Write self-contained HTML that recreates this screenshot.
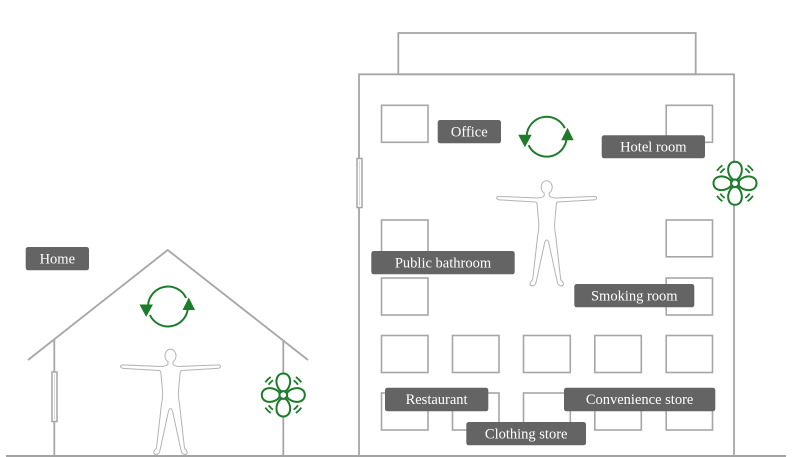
<!DOCTYPE html>
<html><head><meta charset="utf-8"><style>
html,body{margin:0;padding:0;background:#fff;}
svg{display:block;}
text{font-family:"Liberation Serif",serif;font-size:14.5px;fill:#fff;}
</style></head><body>
<svg width="810" height="457" viewBox="0 0 810 457" xmlns="http://www.w3.org/2000/svg">
<defs>
<g id="person">
<path d="M -2.5,12.5 A 5.5 6.5 0 1 1 2.5,12.5 L 2.5,15 Q 3,17 9,17.5 L 45,16 Q 50,15.5 50,17.5 Q 50,19.5 45,19.5 L 11,21.5 Q 9.5,22 9.5,25 L 8,42 Q 7.5,48 9,55 L 14,99 Q 18,103 16,105 Q 13,106.5 11,103 L 10,99 L 2,62 Q 0,57 -2,62 L -10,99 L -11,103 Q -13,106.5 -16,105 Q -18,103 -14,99 L -9,55 Q -7.5,48 -8,42 L -9.5,25 Q -9.5,22 -11,21.5 L -45,19.5 Q -50,19.5 -50,17.5 Q -50,15.5 -45,16 L -9,17.5 Q -3,17 -2.5,15 Z" fill="#fff" stroke="#b3b3b3" stroke-width="1"/>
</g>
<g id="arrows">
<path d="M 18.1,-8.5 A 20 20 0 0 0 -19.9,-1.7" fill="none" stroke="#1e7b2c" stroke-width="2"/>
<path d="M -18.1,8.5 A 20 20 0 0 0 19.9,1.7" fill="none" stroke="#1e7b2c" stroke-width="2"/>
<polygon points="-28.5,-2 -15,-2 -21.8,10.5" fill="#1e7b2c"/>
<polygon points="14.5,3.5 27,3.5 20.8,-9" fill="#1e7b2c"/>
</g>
<g id="fan">
<g fill="#fff" stroke="#1e7b2c" stroke-width="2">
<path id="petal" d="M -2.2,-3.8 C -9,-9 -8.5,-21.5 0,-21.5 C 8.5,-21.5 9,-9 2.2,-3.8 Z"/>
<path d="M -2.2,-3.8 C -9,-9 -8.5,-21.5 0,-21.5 C 8.5,-21.5 9,-9 2.2,-3.8 Z" transform="rotate(90)"/>
<path d="M -2.2,-3.8 C -9,-9 -8.5,-21.5 0,-21.5 C 8.5,-21.5 9,-9 2.2,-3.8 Z" transform="rotate(180)"/>
<path d="M -2.2,-3.8 C -9,-9 -8.5,-21.5 0,-21.5 C 8.5,-21.5 9,-9 2.2,-3.8 Z" transform="rotate(270)"/>
<circle cx="0" cy="0" r="3.8"/>
</g>
<g fill="none" stroke="#1e7b2c" stroke-width="1.8">
<g id="fanarc">
<path d="M 10.3,-14.7 A 18 18 0 0 1 14.7,-10.3"/>
<path d="M 12.6,-18.0 A 22 22 0 0 1 18.0,-12.6"/>
</g>
<use href="#fanarc" transform="rotate(90)"/>
<use href="#fanarc" transform="rotate(180)"/>
<use href="#fanarc" transform="rotate(270)"/>
</g>
</g>
</defs>

<!-- ground -->
<line x1="6" y1="456" x2="786" y2="456" stroke="#a3a3a3" stroke-width="2"/>

<!-- house -->
<polyline points="28,360 167.7,250 308,360" fill="none" stroke="#a6a6a6" stroke-width="1.8"/>
<line x1="54.3" y1="339.5" x2="54.3" y2="456" stroke="#a6a6a6" stroke-width="1.8"/>
<line x1="283.3" y1="339.5" x2="283.3" y2="456" stroke="#a6a6a6" stroke-width="1.8"/>
<rect x="52" y="372" width="5" height="49.5" fill="#fff" stroke="#a6a6a6" stroke-width="1.5"/>
<line x1="54.5" y1="374" x2="54.5" y2="419.5" stroke="#d8d8d8" stroke-width="1"/>

<!-- building -->
<rect x="398.3" y="33" width="297.4" height="41.3" fill="none" stroke="#a6a6a6" stroke-width="1.8"/>
<polyline points="359,456 359,74.3 734,74.3 734,456" fill="none" stroke="#a6a6a6" stroke-width="1.8"/>
<rect x="357" y="158.5" width="5" height="49" fill="#fff" stroke="#a6a6a6" stroke-width="1.5"/>
<line x1="359.5" y1="160.5" x2="359.5" y2="205.5" stroke="#d8d8d8" stroke-width="1"/>

<!-- windows -->
<g fill="none" stroke="#a6a6a6" stroke-width="1.6">
<rect x="381.5" y="105.3" width="46.5" height="37"/>
<rect x="666.2" y="105.3" width="46.3" height="37"/>
<rect x="381.5" y="220" width="46.5" height="36.8"/>
<rect x="666.2" y="220" width="46.3" height="36.8"/>
<rect x="381.5" y="278" width="46.5" height="37"/>
<rect x="666.2" y="278" width="46.3" height="37"/>
<rect x="381.5" y="335.5" width="46.5" height="37"/>
<rect x="452.5" y="335.5" width="46.5" height="37"/>
<rect x="523.5" y="335.5" width="46.8" height="37"/>
<rect x="594.8" y="335.5" width="46.5" height="37"/>
<rect x="666.2" y="335.5" width="46.3" height="37"/>
<rect x="381.5" y="393" width="46.5" height="37"/>
<rect x="452.5" y="393" width="46.5" height="37"/>
<rect x="523.5" y="393" width="46.8" height="37"/>
<rect x="594.8" y="393" width="46.5" height="37"/>
<rect x="666.2" y="393" width="46.3" height="37"/>
</g>

<!-- people -->
<use href="#person" transform="translate(170.5,349)"/>
<use href="#person" transform="translate(546.7,180.5)"/>

<!-- arrows -->
<use href="#arrows" transform="translate(168,306.5)"/>
<use href="#arrows" transform="translate(546.7,136.7)"/>

<!-- fans -->
<use href="#fan" transform="translate(283.3,395)"/>
<use href="#fan" transform="translate(735,183.3)"/>

<!-- labels -->
<g fill="#646464">
<rect x="25.7" y="247" width="63.3" height="23.3" rx="2.5"/>
<rect x="437.7" y="120" width="63.3" height="23.3" rx="2.5"/>
<rect x="601.7" y="135.3" width="103.3" height="23" rx="2.5"/>
<rect x="371.3" y="251" width="143.4" height="23.3" rx="2.5"/>
<rect x="574.3" y="284" width="120" height="23.3" rx="2.5"/>
<rect x="385" y="387.7" width="103.3" height="23.6" rx="2.5"/>
<rect x="564" y="387.7" width="151.3" height="23.6" rx="2.5"/>
<rect x="466.3" y="422" width="119.7" height="23.3" rx="2.5"/>
</g>
<g text-anchor="middle">
<text x="57.3" y="263.5">Home</text>
<text x="469.3" y="136.5">Office</text>
<text x="653.3" y="151.5">Hotel room</text>
<text x="443" y="267.5">Public bathroom</text>
<text x="634.3" y="300.5">Smoking room</text>
<text x="436.6" y="404">Restaurant</text>
<text x="639.6" y="404">Convenience store</text>
<text x="526.2" y="438.5">Clothing store</text>
</g>
</svg>
</body></html>
